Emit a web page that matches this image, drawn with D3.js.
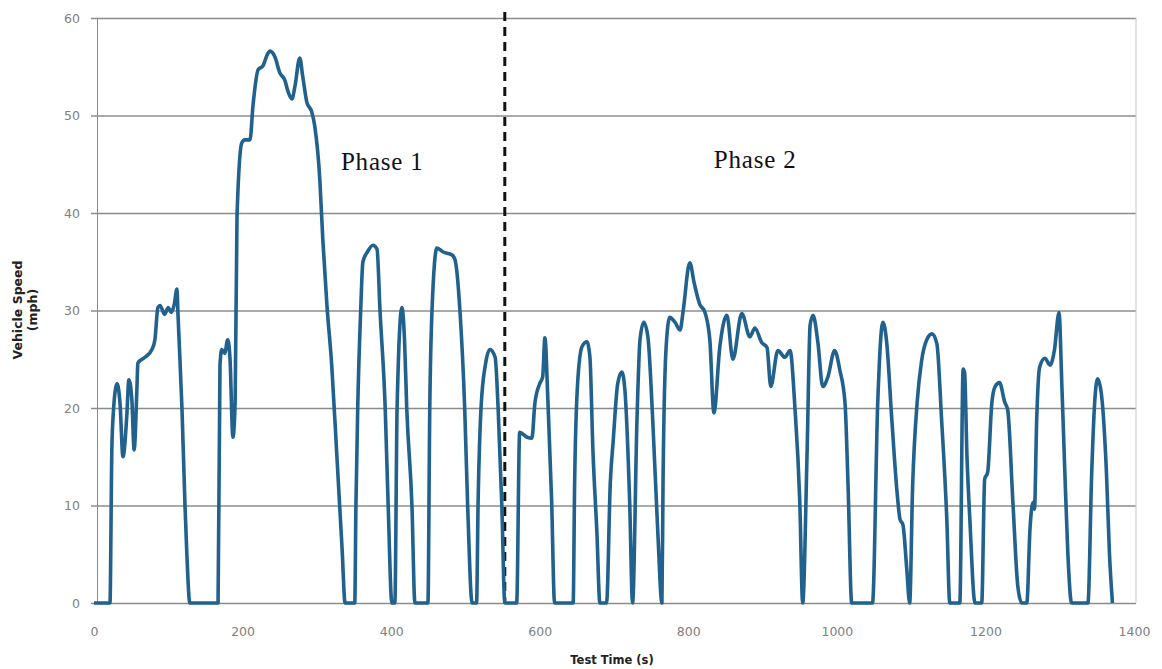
<!DOCTYPE html>
<html><head><meta charset="utf-8">
<script src="https://cdn.jsdelivr.net/npm/d3@7/dist/d3.min.js"></script>
<style>body{margin:0;background:#fff}svg{display:block}</style>
</head><body>
<svg id="c" width="1162" height="669"></svg>
<script>
const time = [0,19,21.5,24,25.6,31,35,39,44,47,51,54,58,59,68.6,78,82,86,89,95,100,104,108,111.7,113,118.4,122.5,125,129,
167,169.6,172,176,180,183,187,190,192.5,199,203,210,214,221,227.5,233,237,243.6,250,257,261,266.5,270.5,277,281,286.7,293,297,304,308,313.6,320,327,334,338,
351,352.6,355,359,362,368,375.5,381,385,392,396,401,405,408,414.5,418,421,428,432,
449.5,452,455,461.6,470,482,486,492.6,499,503,509,515,517,521,527,533,540,544,549,553,
569,573,583,589.5,593.5,600,604,607,611,616,620,645,647,651,657,663.5,667.6,671.6,677,681,
690,695,699,705,710.6,714.7,721,725,731,735,740,745.6,752,759,764.5,
766,770,775,782,789,793,802,808,815.6,822,829,834.5,842.5,852,860,872,883,889.6,899,906,911,920.6,930,937,943.5,950,954,
960,964,968,974.5,981,988,997,1004,1011,1015,1020,1048,1055,1062,1067,1074,1081,1085,1089,1094,1098,
1102,1108,1114,1121,1128,1134.6,1141,1148,1152,1165.5,1170,1172,1175,1179,1186,1195,1199,1203,1208.6,1213,1219,1226,1230,1237,1243.6,1249,
1255.7,1260,1264,1266,1269,1273,1280,1287,1293,1299,1303,1307,1311,1316,1338,1343,1347,1351,1356,1363,1367,1371];
const speed = [0,0,0,15.7,19,22.5,20.5,15,19,22.9,20.8,15.7,22.5,24.6,25.2,26,27,30.3,30.5,29.6,30.3,29.8,30.6,32.2,29.7,20,10,5,0,
0,24.4,26,25.6,27,25.2,17,20.6,39.6,47.2,47.5,47.5,51,54.7,55.1,56.2,56.6,56,54.4,53.6,52.5,51.7,53,55.9,54,51.3,50.4,49,43.4,37.3,30.5,24.4,15,5.5,0,
0,10,20,30,35,36,36.7,36.3,30,20,10,0,0,20,30.3,27,20,10,0,
0,20,30,36.4,36,35.7,35.2,30,20,10,0,0,10,20,24.5,26,25.2,20,10,0,
0,17.5,17,16.9,20.5,22.5,23.2,27.2,20.8,10.6,0,0,12.3,22.5,26.3,26.8,25.2,15.7,7.2,0,
0,12.3,16.7,22.5,23.7,21.8,10.6,0,19,27,28.8,27.3,19,7.2,0,
12.3,26,29.3,28.8,28,29.9,34.9,32.8,30.6,29.9,27,19.5,26.3,29.5,25,29.7,27.3,28.2,26.7,26.2,22.2,25.9,25.2,25.9,20.1,10.6,0,
15.7,28.5,29.5,26.7,22.2,23.2,25.9,23.9,20.5,12.3,0,0,20.5,28.8,26.8,18.8,11.4,8.6,8,3.6,0,
12,20.5,24.8,27,27.6,26.6,18.8,8.6,0,0,24,23.6,15.4,8.6,0,0,12.7,13.4,20.5,22.2,22.6,20.6,19.8,10.3,1.7,0,
0,7.6,10.3,9.6,18.8,24.2,25.1,24.4,26,29.8,22.1,13.2,5,0,0,13.2,20.5,23,21.5,13.2,5,0];
const xTicks = [0,200,400,600,800,1000,1200,1400];
const yTicks = [0,10,20,30,40,50,60];
const phaseBoundary = 553;
const phaseLabels = [{text:"Phase 1", t:388, v:44.4}, {text:"Phase 2", t:890, v:44.6}];

const svg = d3.select("#c");
const x = d3.scaleLinear().domain([0,1400]).range([94,1134]);
const y = d3.scaleLinear().domain([0,60]).range([603,18]);

svg.append("g").attr("transform","translate(97,0)")
  .call(d3.axisLeft(y).tickValues(yTicks).tickSize(-(1136-97)).tickPadding(17).tickFormat(d3.format("d")))
  .call(g=>g.select(".domain").attr("stroke","#8a8a8a"))
  .call(g=>g.selectAll(".tick line").attr("stroke","#8c8c8c").attr("stroke-width",1.3).attr("x1",-6))
  .call(g=>g.selectAll(".tick text").attr("fill","#808080").attr("font-family","DejaVu Sans").attr("font-size",12.5));
svg.append("line").attr("x1",1136).attr("x2",1136).attr("y1",y(60)).attr("y2",y(0)).attr("stroke","#c8c8c8");

svg.append("g").attr("transform","translate(0,"+y(0)+")")
  .call(d3.axisBottom(x).tickValues(xTicks).tickSize(0).tickPadding(24).tickFormat(d3.format("d")))
  .call(g=>g.select(".domain").remove())
  .call(g=>g.selectAll(".tick text").attr("fill","#808080").attr("font-family","DejaVu Sans").attr("font-size",12.5));

svg.append("line").attr("x1",x(phaseBoundary)).attr("x2",x(phaseBoundary))
  .attr("y1",12).attr("y2",y(0)).attr("stroke","#111").attr("stroke-width",3).attr("stroke-dasharray","9,6");

const pts = time.map((t,i)=>[t,speed[i]]);
svg.append("path").datum(pts)
  .attr("d", d3.line().x(d=>x(d[0])).y(d=>y(d[1])).curve(d3.curveMonotoneX))
  .attr("fill","none").attr("stroke","#21618d").attr("stroke-width",3.6).attr("stroke-linejoin","round");

svg.selectAll("text.phase").data(phaseLabels).enter().append("text").attr("class","phase")
  .attr("x",d=>x(d.t)).attr("y",d=>y(d.v)).attr("text-anchor","middle")
  .attr("font-family","Liberation Serif").attr("font-size",25).attr("letter-spacing",0.8).attr("fill","#111").text(d=>d.text);

svg.append("text").attr("transform","translate(22,310) rotate(-90)").attr("text-anchor","middle")
  .attr("font-family","DejaVu Sans").attr("font-weight","bold").attr("font-size",12.5).attr("fill","#222").text("Vehicle Speed");
svg.append("text").attr("transform","translate(37,310) rotate(-90)").attr("text-anchor","middle")
  .attr("font-family","DejaVu Sans").attr("font-weight","bold").attr("font-size",12.5).attr("fill","#222").text("(mph)");
svg.append("text").attr("x",612).attr("y",664).attr("text-anchor","middle")
  .attr("font-family","DejaVu Sans").attr("font-weight","bold").attr("font-size",11.5).attr("fill","#222").text("Test Time (s)");
</script>
</body></html>
